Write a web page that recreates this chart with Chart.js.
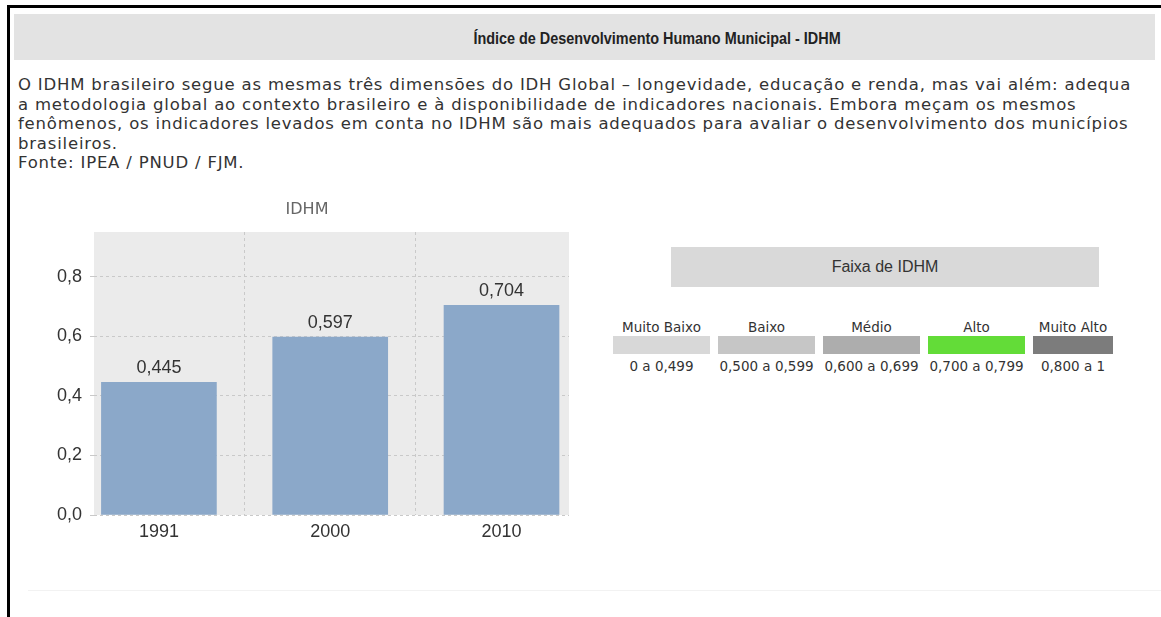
<!DOCTYPE html>
<html lang="pt-BR">
<head>
<meta charset="utf-8">
<title>IDHM</title>
<script src="https://cdn.jsdelivr.net/npm/chart.js@4/dist/chart.umd.min.js"></script>
<style>
    body { margin: 0; background: #fff; width: 1161px; height: 617px; overflow: hidden; position: relative; }
    .moldura { position: absolute; left: 7px; top: 5px; right: 0; bottom: 0; border-top: 3px solid #000; border-left: 3px solid #000; }
    .titulo {
        position: absolute; left: 14px; top: 14px; width: 995px; height: 46px; padding-left: 146px;
        background: #e3e3e3; color: #222; text-align: center;
        font: bold 16px 'Liberation Sans', Arial, sans-serif; line-height: 50px;
    }
    .titulo span { display: inline-block; transform: scaleX(0.9); }
    .texto {
        position: absolute; left: 18px; top: 75px; width: 1140px;
        font: 16.5px 'DejaVu Sans', Verdana, sans-serif; line-height: 19.5px; letter-spacing: 0.8px; color: #333;
    }
    #grafico-box { position: absolute; left: 0; top: 195px; width: 600px; height: 360px; }
    .faixa-titulo {
        position: absolute; left: 671px; top: 247px; width: 428px; height: 40px;
        background: #d9d9d9; color: #333; text-align: center;
        font: 16px 'Liberation Sans', Arial, sans-serif; line-height: 40px;
    }
    .faixas { position: absolute; left: 613px; top: 318px; display: flex; gap: 8px; }
    .faixa { width: 97px; text-align: center; font: 13.5px 'DejaVu Sans', Verdana, sans-serif; color: #333; white-space: nowrap; }
    .faixa:last-child { width: 80px; }
    .faixa .nome { height: 18px; line-height: 18px; }
    .faixa .cor { height: 18px; }
    .faixa .valor { height: 22px; line-height: 24px; }
    .rodape { position: absolute; left: 28px; top: 590px; right: 0; height: 1px; background: #f2f2f2; }
</style>
</head>
<body>
<div class="moldura"></div>
<div class="titulo"><span>Índice de Desenvolvimento Humano Municipal - IDHM</span></div>
<div class="texto">
O IDHM brasileiro segue as mesmas três dimensões do IDH Global – longevidade, educação e renda, mas vai além: adequa<br>
a metodologia global ao contexto brasileiro e à disponibilidade de indicadores nacionais. Embora meçam os mesmos<br>
fenômenos, os indicadores levados em conta no IDHM são mais adequados para avaliar o desenvolvimento dos municípios<br>
brasileiros.<br>
Fonte: IPEA / PNUD / FJM.
</div>

<div id="grafico-box"><canvas id="idhm"></canvas></div>

<div class="faixa-titulo">Faixa de IDHM</div>
<div class="faixas" id="faixas"></div>
<div class="rodape"></div>

<script>
// dados do grafico
const anos = ['1991', '2000', '2010'];
const idhm = [0.445, 0.597, 0.704];
const ticksY = [0, 0.2, 0.4, 0.6, 0.8];

// faixas de IDHM
const faixaNomes = ['Muito Baixo', 'Baixo', 'Médio', 'Alto', 'Muito Alto'];
const faixaIntervalos = ['0 a 0,499', '0,500 a 0,599', '0,600 a 0,699', '0,700 a 0,799', '0,800 a 1'];
const faixaCores = ['#d8d8d8', '#c6c6c6', '#adadad', '#63dc38', '#7c7c7c'];

const virgula = (v, casas) => v.toFixed(casas).replace('.', ',');

// monta a legenda das faixas
const caixaFaixas = document.getElementById('faixas');
faixaNomes.forEach((nome, i) => {
    const div = document.createElement('div');
    div.className = 'faixa';
    div.innerHTML = `<div class="nome">${nome}</div><div class="cor" style="background:${faixaCores[i]}"></div><div class="valor">${faixaIntervalos[i]}</div>`;
    caixaFaixas.appendChild(div);
});

Chart.defaults.font.family = "'Liberation Sans', Arial, sans-serif";
Chart.defaults.color = '#333';

// fundo cinza da area de plotagem
const fundoArea = {
    id: 'fundoArea',
    beforeDraw(chart) {
        const { ctx, chartArea: a } = chart;
        ctx.save();
        ctx.fillStyle = '#ebebeb';
        ctx.fillRect(a.left, a.top, a.right - a.left, a.bottom - a.top);
        ctx.restore();
    }
};

// rotulos de valor acima das barras
const rotulosValor = {
    id: 'rotulosValor',
    afterDatasetsDraw(chart) {
        const { ctx } = chart;
        ctx.save();
        ctx.font = "18px 'Liberation Sans', Arial, sans-serif";
        ctx.fillStyle = '#333';
        ctx.textAlign = 'center';
        ctx.textBaseline = 'bottom';
        chart.getDatasetMeta(0).data.forEach((barra, i) => {
            ctx.fillText(virgula(idhm[i], 3), barra.x, barra.y - 5);
        });
        ctx.restore();
    }
};

new Chart(document.getElementById('idhm'), {
    type: 'bar',
    data: {
        datasets: [{
            label: 'IDHM',
            data: anos.map((a, i) => ({ x: i, y: idhm[i] })),
            backgroundColor: '#8ba8c9',
            borderWidth: 0,
            barThickness: 115
        }]
    },
    plugins: [fundoArea, rotulosValor],
    options: {
        responsive: true,
        maintainAspectRatio: false,
        animation: false,
        events: [],
        layout: { padding: { right: 31, left: 45, bottom: 0 } },
        plugins: {
            legend: { display: false },
            tooltip: { enabled: false },
            title: {
                display: true,
                text: 'IDHM',
                color: '#666',
                font: { family: "'DejaVu Sans', Verdana, sans-serif", size: 16, weight: 'normal' },
                padding: { top: 5, bottom: 12.8 }
            }
        },
        scales: {
            x: {
                type: 'linear',
                min: -0.379,
                max: 2.394,
                offset: false,
                afterBuildTicks: (scale) => { scale.ticks = anos.map((_, i) => ({ value: i })); },
                afterFit: (scale) => { scale.height = 40; },
                ticks: {
                    callback: (v) => anos[v],
                    font: { size: 18 },
                    padding: 6,
                    maxRotation: 0
                },
                grid: { color: '#c9c9c9', drawTicks: false },
                border: { display: false, dash: [3, 3] }
            },
            y: {
                min: 0,
                max: 0.95,
                afterBuildTicks: (scale) => { scale.ticks = ticksY.map(v => ({ value: v })); },
                afterFit: (scale) => { scale.width = 49; },
                ticks: {
                    callback: (v) => virgula(v, 1),
                    font: { size: 18 },
                    padding: 8
                },
                grid: { color: '#c9c9c9', tickLength: 4 },
                border: { display: false, dash: [3, 3] }
            }
        }
    }
});
</script>
</body>
</html>
